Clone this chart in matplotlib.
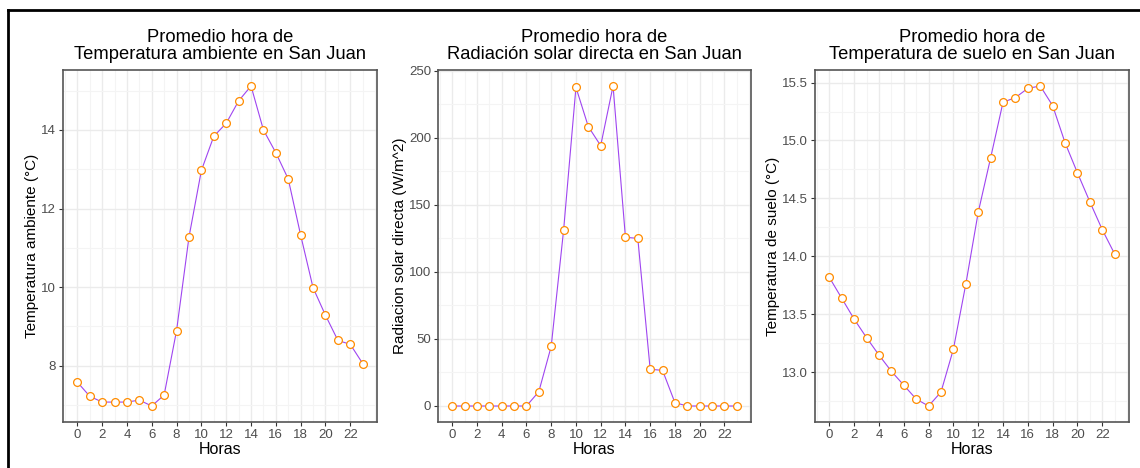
import numpy as np
import matplotlib.pyplot as plt
from matplotlib.ticker import MultipleLocator
from matplotlib.lines import Line2D

plt.rcParams['font.family'] = ['Liberation Sans', 'DejaVu Sans']

## Promedios horarios en San Juan
horas = np.arange(24)

temp_amb = [7.58, 7.22, 7.07, 7.07, 7.07, 7.12, 6.97, 7.25, 8.89, 11.27, 12.97, 13.84,
            14.17, 14.74, 15.12, 14.00, 13.42, 12.75, 11.32, 9.98, 9.28, 8.64, 8.54, 8.05]

rad_dir = [0, 0, 0, 0, 0, 0, 0, 10.7, 44.5, 131.0, 237.8, 208.5,
           194.3, 238.8, 125.9, 125.1, 27.4, 26.6, 2.5, 0, 0, 0, 0, 0]

temp_suelo = [13.82, 13.64, 13.46, 13.30, 13.15, 13.01, 12.89, 12.77, 12.71, 12.83, 13.20, 13.76,
              14.38, 14.85, 15.33, 15.37, 15.45, 15.47, 15.30, 14.98, 14.72, 14.47, 14.23, 14.02]

titulos = ["Promedio hora de\nTemperatura ambiente en San Juan",
           "Promedio hora de\nRadiación solar directa en San Juan",
           "Promedio hora de\nTemperatura de suelo en San Juan"]
ylabels = ["Temperatura ambiente (°C)", "Radiacion solar directa (W/m^2)", "Temperatura de suelo (°C)"]
x_ticks = list(range(0, 23, 2))
major_steps = [2, 50, 0.5]
series = [temp_amb, rad_dir, temp_suelo]

W, H = 1140, 468
fig = plt.figure(figsize=(W / 100, H / 100), dpi=100)
fig.patch.set_facecolor('white')

# pixel boxes of the three panels (left, right)
cajas = [(63, 377), (438, 751), (815, 1129)]
top, bottom = 70, 422

def expand(lo, hi, f=0.05):
    r = hi - lo
    return lo - f * r, hi + f * r

for (x0, x1), y, tit, ylab, step in zip(cajas, series, titulos, ylabels, major_steps):
    ax = fig.add_axes([x0 / W, (H - bottom) / H, (x1 - x0) / W, (bottom - top) / H])
    ax.plot(horas, y, color='#9f45f0', lw=0.8, zorder=3)
    ax.plot(horas, y, linestyle='none', marker='o', ms=5.6, mfc='white',
            mec='#ff8c00', mew=0.9, zorder=4)
    ax.set_xlim(*expand(0, 23))
    ax.set_ylim(*expand(min(y), max(y)))
    ax.set_xticks(x_ticks)
    ax.xaxis.set_minor_locator(MultipleLocator(1))
    ax.yaxis.set_major_locator(MultipleLocator(step))
    ax.yaxis.set_minor_locator(MultipleLocator(step / 2))
    if step == 0.5:
        ax.yaxis.set_major_formatter(plt.FormatStrFormatter('%.1f'))
    ax.grid(which='major', color='#ebebeb', lw=1.0, zorder=0)
    ax.grid(which='minor', color='#f4f4f4', lw=0.8, zorder=0)
    ax.set_axisbelow(True)
    for s in ax.spines.values():
        s.set_color('#555555')
        s.set_linewidth(1.2)
    ax.tick_params(which='major', length=3, width=0.8, color='#333333',
                   labelsize=9.5, labelcolor='#4d4d4d', pad=2)
    ax.tick_params(which='minor', length=0)
    ax.set_title(tit, fontsize=13.2, color='black', pad=8, linespacing=1.0)
    ax.set_xlabel('Horas', fontsize=11.5, labelpad=1)
    ax.set_ylabel(ylab, fontsize=11, labelpad=1.5)

# black frame on top and left
fig.add_artist(Line2D([8 / W, 1], [1 - 10 / H, 1 - 10 / H], color='black', lw=2))
fig.add_artist(Line2D([8 / W, 8 / W], [0, 1 - 10 / H], color='black', lw=2))

fig.savefig('out.png', dpi=100)
